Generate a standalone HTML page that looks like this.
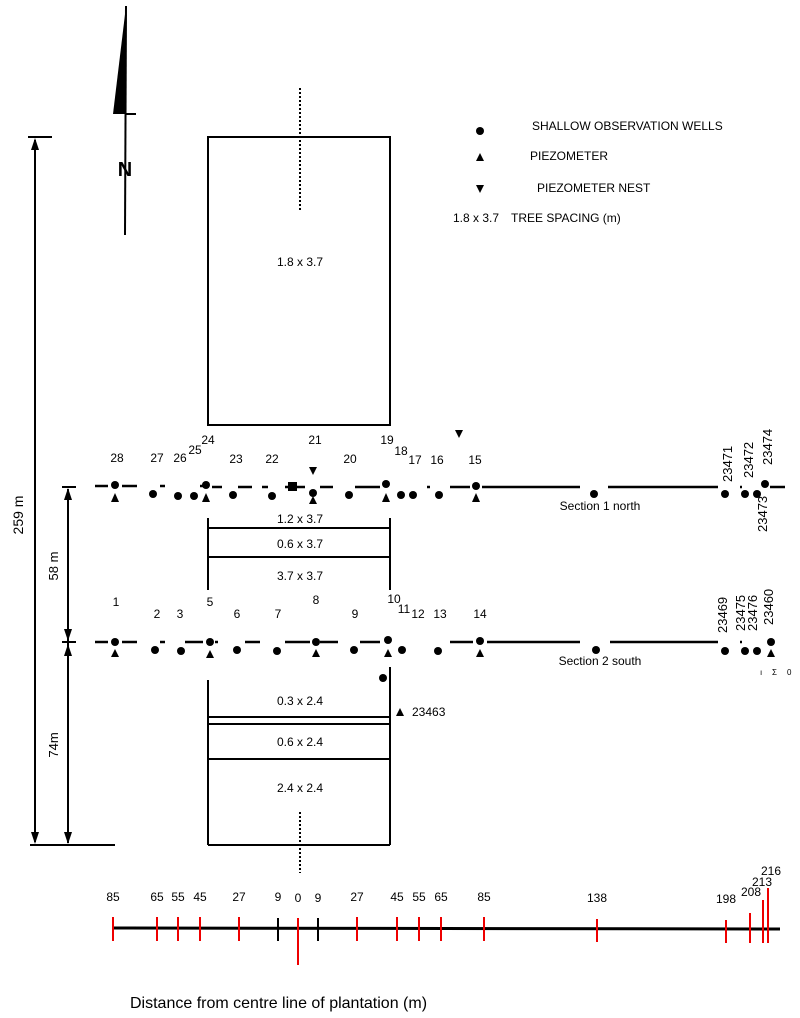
<!DOCTYPE html>
<html><head><meta charset="utf-8"><style>
html,body{margin:0;padding:0;background:#fff}
svg{display:block}
text{font-family:"Liberation Sans",Arial,sans-serif;fill:#000}
</style></head><body>
<svg width="800" height="1018" viewBox="0 0 800 1018" xmlns="http://www.w3.org/2000/svg">
<!-- North arrow -->
<line x1="126" y1="6" x2="125" y2="235" stroke="#000" stroke-width="2"/>
<polygon points="126,6 113,114 126,114" fill="#000"/>
<line x1="126" y1="114" x2="136" y2="114" stroke="#000" stroke-width="2"/>
<text x="125" y="176" font-size="20" font-weight="bold" text-anchor="middle">N</text>

<!-- Top box -->
<rect x="208" y="137" width="182" height="288" fill="none" stroke="#000" stroke-width="2"/>
<line x1="300" y1="88" x2="300" y2="212" stroke="#000" stroke-width="2" stroke-dasharray="2,2"/>
<text x="300" y="266" font-size="12" text-anchor="middle">1.8 x 3.7</text>

<!-- Legend -->
<circle cx="480" cy="131" r="4"/>
<text x="532" y="130" font-size="12">SHALLOW OBSERVATION WELLS</text>
<polygon points="476,161 480,153 484,161"/>
<text x="530" y="160" font-size="12">PIEZOMETER</text>
<polygon points="476,185 484,185 480,193"/>
<text x="537" y="192" font-size="12">PIEZOMETER NEST</text>
<text x="453" y="222" font-size="12">1.8 x 3.7</text>
<text x="511" y="222" font-size="12">TREE SPACING (m)</text>

<!-- 259 m -->
<line x1="28" y1="137" x2="52" y2="137" stroke="#000" stroke-width="2"/>
<line x1="30" y1="845" x2="115" y2="845" stroke="#000" stroke-width="2"/>
<line x1="35" y1="140" x2="35" y2="842" stroke="#000" stroke-width="2"/>
<polygon points="35,138 31,150 39,150"/>
<polygon points="35,844 31,832 39,832"/>
<text transform="translate(23,515) rotate(-90)" font-size="14" text-anchor="middle">259 m</text>
<!-- 58 m / 74m -->
<line x1="62" y1="487" x2="76" y2="487" stroke="#000" stroke-width="2"/>
<line x1="62" y1="642" x2="76" y2="642" stroke="#000" stroke-width="2"/>
<line x1="68" y1="489" x2="68" y2="843" stroke="#000" stroke-width="2"/>
<polygon points="68,488 64,500 72,500"/>
<polygon points="68,641 64,629 72,629"/>
<polygon points="68,644 64,656 72,656"/>
<polygon points="68,844 64,832 72,832"/>
<text transform="translate(58,566) rotate(-90)" font-size="13" text-anchor="middle">58 m</text>
<text transform="translate(58,745) rotate(-90)" font-size="13" text-anchor="middle">74m</text>

<!-- Section 1 north line -->
<g stroke="#000" stroke-width="2.5">
<line x1="95" y1="486" x2="108" y2="486"/><line x1="122" y1="486" x2="137" y2="486"/>
<line x1="160" y1="486" x2="165" y2="486"/><line x1="200" y1="486" x2="203" y2="486"/>
<line x1="212" y1="487" x2="222" y2="487"/><line x1="238" y1="487" x2="252" y2="487"/>
<line x1="262" y1="487" x2="268" y2="487"/><line x1="285" y1="487" x2="305" y2="487"/>
<line x1="320" y1="487" x2="333" y2="487"/><line x1="355" y1="487" x2="380" y2="487"/>
<line x1="427" y1="487" x2="430" y2="487"/><line x1="450" y1="487" x2="470" y2="487"/>
<line x1="482" y1="487" x2="580" y2="487"/><line x1="608" y1="487" x2="718" y2="487"/>
<line x1="740" y1="487" x2="742" y2="487"/><line x1="770" y1="487" x2="785" y2="487"/>
</g>
<rect x="288" y="482" width="9" height="9"/>
<g>
<circle cx="115" cy="485" r="4"/><polygon points="111,502 115,493 119,502"/>
<circle cx="153" cy="494" r="4"/><circle cx="178" cy="496" r="4"/><circle cx="194" cy="496" r="4"/>
<circle cx="206" cy="485" r="4"/><polygon points="202,502 206,493 210,502"/>
<circle cx="233" cy="495" r="4"/><circle cx="272" cy="496" r="4"/>
<polygon points="309,467 317,467 313,475"/>
<circle cx="313" cy="493" r="4"/><polygon points="309,504 313,496 317,504"/>
<circle cx="349" cy="495" r="4"/>
<circle cx="386" cy="484" r="4"/><polygon points="382,502 386,493 390,502"/>
<circle cx="401" cy="495" r="4"/><circle cx="413" cy="495" r="4"/><circle cx="439" cy="495" r="4"/>
<circle cx="476" cy="486" r="4"/><polygon points="472,502 476,493 480,502"/>
<circle cx="594" cy="494" r="4"/>
<circle cx="725" cy="494" r="4"/><circle cx="745" cy="494" r="4"/><circle cx="757" cy="494" r="4"/>
<circle cx="765" cy="484" r="4"/>
<polygon points="455,430 463,430 459,438"/>
</g>
<g font-size="12" text-anchor="middle">
<text x="117" y="462">28</text><text x="157" y="462">27</text><text x="180" y="462">26</text>
<text x="195" y="454">25</text><text x="208" y="444">24</text><text x="236" y="463">23</text>
<text x="272" y="463">22</text><text x="315" y="444">21</text><text x="350" y="463">20</text>
<text x="387" y="444">19</text><text x="401" y="455">18</text><text x="415" y="464">17</text>
<text x="437" y="464">16</text><text x="475" y="464">15</text>
</g>
<text x="600" y="510" font-size="12" text-anchor="middle">Section 1 north</text>
<g font-size="13">
<text transform="translate(732,482) rotate(-90)">23471</text>
<text transform="translate(753,478) rotate(-90)">23472</text>
<text transform="translate(772,465) rotate(-90)">23474</text>
<text transform="translate(767,532) rotate(-90)">23473</text>
</g>

<g stroke="#000" stroke-width="2">
<line x1="208" y1="518" x2="208" y2="590"/><line x1="390" y1="518" x2="390" y2="590"/>
<line x1="208" y1="528" x2="390" y2="528"/><line x1="208" y1="557" x2="390" y2="557"/>
</g>
<g font-size="12" text-anchor="middle">
<text x="300" y="523">1.2 x 3.7</text><text x="300" y="548">0.6 x 3.7</text><text x="300" y="580">3.7 x 3.7</text>
</g>

<g font-size="12" text-anchor="middle">
<text x="116" y="606">1</text><text x="210" y="606">5</text><text x="316" y="604">8</text><text x="394" y="603">10</text>
<text x="157" y="618">2</text><text x="180" y="618">3</text><text x="237" y="618">6</text><text x="278" y="618">7</text>
<text x="355" y="618">9</text><text x="404" y="613">11</text><text x="418" y="618">12</text><text x="440" y="618">13</text><text x="480" y="618">14</text>
</g>
<g stroke="#000" stroke-width="2.5">
<line x1="95" y1="642" x2="108" y2="642"/><line x1="122" y1="642" x2="137" y2="642"/>
<line x1="160" y1="642" x2="165" y2="642"/><line x1="185" y1="642" x2="203" y2="642"/>
<line x1="215" y1="642" x2="218" y2="642"/><line x1="245" y1="642" x2="260" y2="642"/>
<line x1="285" y1="642" x2="310" y2="642"/><line x1="320" y1="642" x2="338" y2="642"/>
<line x1="360" y1="642" x2="380" y2="642"/>
<line x1="450" y1="642" x2="473" y2="642"/><line x1="487" y1="642" x2="580" y2="642"/>
<line x1="610" y1="642" x2="718" y2="642"/><line x1="740" y1="642" x2="742" y2="642"/>
</g>
<g>
<circle cx="115" cy="642" r="4"/><polygon points="111,657 115,649 119,657"/>
<circle cx="155" cy="650" r="4"/><circle cx="181" cy="651" r="4"/>
<circle cx="210" cy="642" r="4"/><polygon points="206,658 210,650 214,658"/>
<circle cx="237" cy="650" r="4"/><circle cx="277" cy="651" r="4"/>
<circle cx="316" cy="642" r="4"/><polygon points="312,657 316,649 320,657"/>
<circle cx="354" cy="650" r="4"/>
<circle cx="388" cy="640" r="4"/><polygon points="384,657 388,649 392,657"/>
<circle cx="402" cy="650" r="4"/><circle cx="438" cy="651" r="4"/>
<circle cx="480" cy="641" r="4"/><polygon points="476,657 480,649 484,657"/>
<circle cx="596" cy="650" r="4"/>
<circle cx="725" cy="651" r="4"/><circle cx="745" cy="651" r="4"/><circle cx="757" cy="651" r="4"/>
<circle cx="771" cy="642" r="4"/><polygon points="767,657 771,649 775,657"/>
</g>
<text x="600" y="665" font-size="12" text-anchor="middle">Section 2 south</text>
<g font-size="13">
<text transform="translate(727,633) rotate(-90)">23469</text>
<text transform="translate(745,631) rotate(-90)">23475</text>
<text transform="translate(757,631) rotate(-90)">23476</text>
<text transform="translate(773,625) rotate(-90)">23460</text>
</g>
<g font-size="8"><text x="760" y="675">ı</text><text x="772" y="675">Σ</text><text x="787" y="675">0</text></g>

<g stroke="#000" stroke-width="2">
<line x1="208" y1="680" x2="208" y2="845"/><line x1="390" y1="667" x2="390" y2="845"/>
<line x1="208" y1="717" x2="390" y2="717"/><line x1="208" y1="724" x2="390" y2="724"/>
<line x1="208" y1="759" x2="390" y2="759"/><line x1="208" y1="845" x2="390" y2="845"/>
</g>
<circle cx="383" cy="678" r="4"/>
<polygon points="396,716 400,708 404,716"/>
<text x="412" y="716" font-size="12">23463</text>
<g font-size="12" text-anchor="middle">
<text x="300" y="705">0.3 x 2.4</text><text x="300" y="746">0.6 x 2.4</text><text x="300" y="792">2.4 x 2.4</text>
</g>
<line x1="300" y1="812" x2="300" y2="873" stroke="#000" stroke-width="2" stroke-dasharray="2,2"/>

<line x1="113" y1="928" x2="780" y2="929" stroke="#000" stroke-width="3"/>
<g stroke="#e00" stroke-width="2">
<line x1="113" y1="917" x2="113" y2="941"/><line x1="157" y1="917" x2="157" y2="941"/>
<line x1="178" y1="917" x2="178" y2="941"/><line x1="200" y1="917" x2="200" y2="941"/>
<line x1="239" y1="917" x2="239" y2="941"/><line x1="298" y1="918" x2="298" y2="965"/>
<line x1="357" y1="917" x2="357" y2="941"/><line x1="397" y1="917" x2="397" y2="941"/>
<line x1="419" y1="917" x2="419" y2="941"/><line x1="441" y1="917" x2="441" y2="941"/>
<line x1="484" y1="917" x2="484" y2="941"/><line x1="597" y1="919" x2="597" y2="942"/>
<line x1="726" y1="920" x2="726" y2="943"/><line x1="750" y1="913" x2="750" y2="943"/>
<line x1="763" y1="900" x2="763" y2="943"/><line x1="768" y1="888" x2="768" y2="943"/>
</g>
<g stroke="#000" stroke-width="2">
<line x1="278" y1="918" x2="278" y2="941"/><line x1="318" y1="918" x2="318" y2="941"/>
</g>
<g font-size="12" text-anchor="middle">
<text x="113" y="901">85</text><text x="157" y="901">65</text><text x="178" y="901">55</text><text x="200" y="901">45</text>
<text x="239" y="901">27</text><text x="278" y="901">9</text><text x="298" y="902">0</text><text x="318" y="902">9</text>
<text x="357" y="901">27</text><text x="397" y="901">45</text><text x="419" y="901">55</text><text x="441" y="901">65</text>
<text x="484" y="901">85</text><text x="597" y="902">138</text><text x="726" y="903">198</text>
<text x="751" y="896">208</text><text x="762" y="886">213</text><text x="771" y="875">216</text>
</g>
<text x="130" y="1008" font-size="16">Distance from centre line of plantation (m)</text>
</svg>
</body></html>
